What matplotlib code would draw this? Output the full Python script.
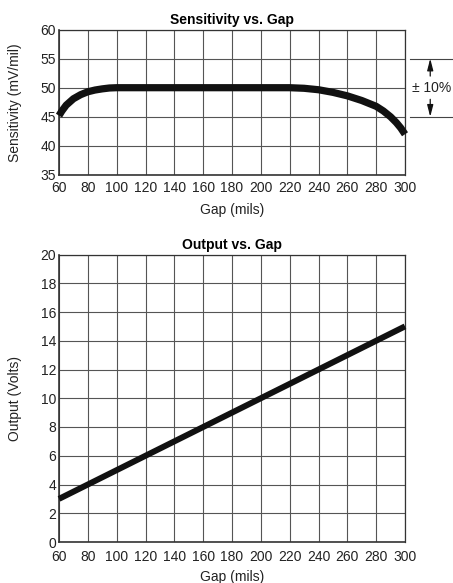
import matplotlib
matplotlib.use("Agg")
import matplotlib.pyplot as plt

plt.rcParams['font.family'] = ['Liberation Sans', 'DejaVu Sans']

# Sensitivity vs. Gap
gap_sens = [60, 62, 65, 70, 75, 80, 85, 90, 95, 100, 120, 140, 160, 180, 200, 220,
            230, 240, 250, 260, 270, 280, 285, 290, 294, 297, 300]
sensitivity = [45.2, 46.0, 47.0, 48.1, 48.8, 49.3, 49.6, 49.8, 49.95, 50.0, 50.0, 50.0, 50.0, 50.0, 50.0, 50.0,
               49.9, 49.65, 49.2, 48.6, 47.8, 46.8, 46.0, 45.0, 44.0, 43.1, 42.0]

# Output vs. Gap
gap_out = [60, 80, 100, 120, 140, 160, 180, 200, 220, 240, 260, 280, 300]
output = [3, 4, 5, 6, 7, 8, 9, 10, 11, 12, 13, 14, 15]

x_ticks = [60, 80, 100, 120, 140, 160, 180, 200, 220, 240, 260, 280, 300]
sens_ticks = [35, 40, 45, 50, 55, 60]
out_ticks = [0, 2, 4, 6, 8, 10, 12, 14, 16, 18, 20]

W, H = 453, 583
fig = plt.figure(figsize=(W / 100, H / 100), dpi=100)

def ax_rect(l, t, r, b):
    return [l / W, 1 - b / H, (r - l) / W, (b - t) / H]

grid_color = '#555555'
fs = 10

def style(ax, xpad):
    ax.set_xticks(x_ticks)
    ax.grid(True, color=grid_color, linewidth=0.8)
    ax.set_axisbelow(True)
    ax.tick_params(length=0, labelsize=fs, colors='#222222', pad=2)
    ax.tick_params(axis='x', pad=xpad)
    for s in ax.spines.values():
        s.set_color('#333333')
        s.set_linewidth(0.9)
    ax.spines['left'].set_linewidth(1.2)
    ax.spines['bottom'].set_linewidth(1.2)

# Top chart
ax1 = fig.add_axes(ax_rect(59, 29.5, 405, 175))
ax1.plot(gap_sens, sensitivity, color='#111111', linewidth=5.2,
         solid_capstyle='butt', clip_on=False, zorder=3)
ax1.set_xlim(60, 300)
ax1.set_ylim(35, 60)
ax1.set_yticks(sens_ticks)
style(ax1, 4)
ax1.set_title('Sensitivity vs. Gap', fontsize=fs, fontweight='bold', pad=4)
ax1.set_xlabel('Gap (mils)', fontsize=fs, color='#222222')
ax1.set_ylabel('Sensitivity (mV/mil)', fontsize=fs, color='#222222')
ax1.xaxis.set_label_coords(0.5, -0.195)
ax1.yaxis.set_label_coords(-0.107, 0.5)

# +/- 10% annotation
for yv in (55, 45):
    ax1.plot([303.5, 335], [yv, yv], color='#444444', linewidth=0.8, clip_on=False)
ax1.annotate('', xy=(317.5, 55), xytext=(317.5, 52.0),
             arrowprops=dict(arrowstyle='-|>,head_length=0.7,head_width=0.18',
                             color='#111111', lw=0.9, shrinkA=0, shrinkB=0),
             annotation_clip=False)
ax1.annotate('', xy=(317.5, 45), xytext=(317.5, 48.0),
             arrowprops=dict(arrowstyle='-|>,head_length=0.7,head_width=0.18',
                             color='#111111', lw=0.9, shrinkA=0, shrinkB=0),
             annotation_clip=False)
ax1.text(318.5, 50, '± 10%', fontsize=fs, ha='center', va='center', color='#222222',
         clip_on=False)

# Bottom chart
ax2 = fig.add_axes(ax_rect(59, 254.5, 405, 542))
ax2.plot(gap_out, output, color='#111111', linewidth=4.3,
         solid_capstyle='butt', clip_on=False, zorder=3)
ax2.set_xlim(60, 300)
ax2.set_ylim(0, 20)
ax2.set_yticks(out_ticks)
style(ax2, 5.5)
ax2.set_title('Output vs. Gap', fontsize=fs, fontweight='bold', pad=4)
ax2.set_xlabel('Gap (mils)', fontsize=fs, color='#222222')
ax2.set_ylabel('Output (Volts)', fontsize=fs, color='#222222')
ax2.xaxis.set_label_coords(0.5, -0.098)
ax2.yaxis.set_label_coords(-0.107, 0.5)

fig.savefig('out.png', dpi=100)
